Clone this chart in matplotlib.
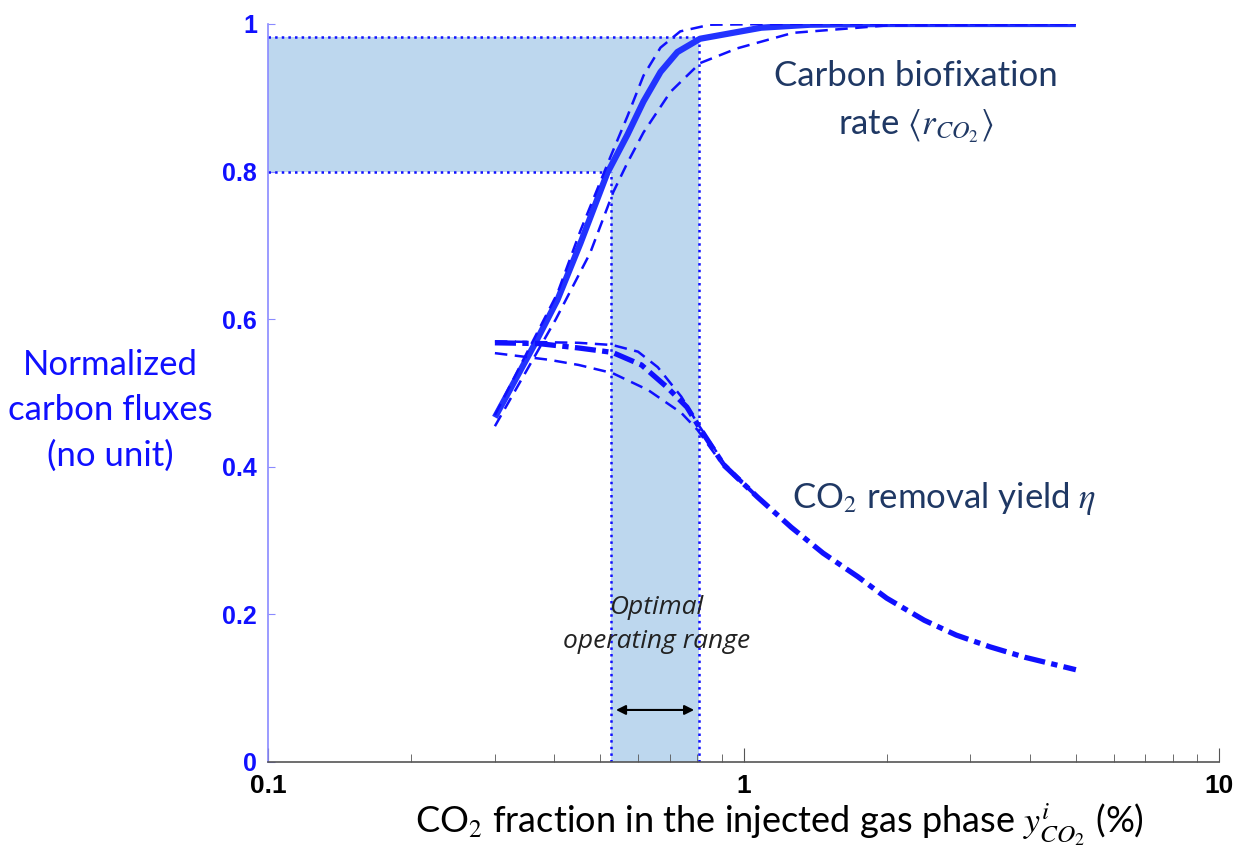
import matplotlib
matplotlib.use('Agg')
import matplotlib.pyplot as plt
import numpy as np

plt.rcParams['mathtext.fontset'] = 'stix'

# --- data ---
# carbon biofixation rate (normalized), three model variants
bio_x = [0.30, 0.365, 0.406, 0.454, 0.517, 0.570, 0.616, 0.669, 0.726, 0.81, 1.09, 1.38, 2.0, 5.0]
bio_mid = [0.467, 0.568, 0.626, 0.703, 0.798, 0.850, 0.895, 0.935, 0.962, 0.980, 0.995, 0.999, 1.0, 1.0]
bio_up_x = [0.30, 0.406, 0.454, 0.525, 0.570, 0.616, 0.669, 0.736, 0.85, 1.2, 5.0]
bio_up = [0.470, 0.635, 0.720, 0.820, 0.875, 0.930, 0.968, 0.990, 0.999, 1.0, 1.0]
bio_lo_x = [0.30, 0.403, 0.476, 0.532, 0.570, 0.616, 0.702, 0.81, 0.97, 1.27, 2.0, 5.0]
bio_lo = [0.455, 0.600, 0.690, 0.772, 0.812, 0.853, 0.908, 0.947, 0.967, 0.988, 0.998, 1.0]

# CO2 removal yield (normalized)
eta_x = [0.30, 0.37, 0.45, 0.53, 0.61, 0.69, 0.76, 0.81, 0.91, 1.07, 1.26, 1.47, 1.74, 2.0, 2.4, 2.8, 3.3, 3.9, 5.0]
eta_mid = [0.568, 0.567, 0.561, 0.555, 0.538, 0.508, 0.481, 0.452, 0.402, 0.359, 0.318, 0.283, 0.251, 0.222, 0.192, 0.172, 0.156, 0.142, 0.125]
eta_up_x = [0.30, 0.45, 0.53, 0.60, 0.66, 0.74, 0.80, 0.91, 1.07]
eta_up = [0.570, 0.568, 0.565, 0.556, 0.535, 0.495, 0.459, 0.405, 0.360]
eta_lo_x = [0.30, 0.39, 0.45, 0.53, 0.63, 0.74, 0.80, 0.91, 1.07]
eta_lo = [0.554, 0.545, 0.538, 0.527, 0.504, 0.473, 0.450, 0.400, 0.358]

# optimal operating range
range_lo, range_hi = 0.527, 0.808
rate_lo, rate_hi = 0.80, 0.982

x_ticks = [0.1, 1, 10]
x_ticklabels = ['0.1', '1', '10']
y_ticks = [0, 0.2, 0.4, 0.6, 0.8, 1.0]
y_ticklabels = ['0', '0.2', '0.4', '0.6', '0.8', '1']

blue = '#1010ff'
navy = '#1f3864'
shade = '#bdd7ee'

fig = plt.figure(figsize=(12.42, 8.51), dpi=100)
ax = fig.add_axes([0.2158, 0.1046, 0.7657, 0.8672])
ax.set_xscale('log')
ax.set_xlim(0.1, 10)
ax.set_ylim(0, 1)

# shaded areas
ax.fill_between([0.1, range_hi], rate_lo, rate_hi, color=shade, lw=0, zorder=0)
ax.fill_between([range_lo, range_hi], 0, rate_lo, color=shade, lw=0, zorder=0)
# dotted guides
ax.plot([0.1, range_hi], [rate_hi, rate_hi], ':', color=blue, lw=1.8)
ax.plot([0.1, range_lo], [rate_lo, rate_lo], ':', color=blue, lw=1.8)
ax.plot([range_lo, range_lo], [0, rate_lo], ':', color=blue, lw=1.8)
ax.plot([range_hi, range_hi], [0, rate_hi], ':', color=blue, lw=1.8)

# biofixation curves
ax.plot(bio_x, bio_mid, '-', color='#2233ff', lw=4.5, solid_capstyle='butt')
ax.plot(bio_up_x, bio_up, '--', color=blue, lw=1.8, dashes=(5, 3))
ax.plot(bio_lo_x, bio_lo, '--', color=blue, lw=1.8, dashes=(5, 3))

# removal yield curves
ax.plot(eta_x, eta_mid, color=blue, lw=3.8, linestyle=(0, (4, 1.2, 1.2, 1.2)))
ax.plot(eta_up_x, eta_up, '--', color=blue, lw=1.8, dashes=(5, 3))
ax.plot(eta_lo_x, eta_lo, '--', color=blue, lw=1.8, dashes=(5, 3))

# operating range arrow + label
ax.annotate('', xy=(range_hi - 0.01, 0.0705), xytext=(range_lo + 0.005, 0.0705),
            arrowprops=dict(arrowstyle='<|-|>', color='black', lw=1.5, mutation_scale=14))
ax.text(0.655, 0.186, 'Optimal\noperating range', ha='center', va='center',
        fontsize=19, style='italic', color='#222222', family='Open Sans', linespacing=1.45)

ax.text(2.3, 0.894, 'Carbon biofixation\nrate $\\langle r_{CO_2}\\rangle$', ha='center', va='center',
        fontsize=25, color=navy, family='Lato', linespacing=1.6)
ax.text(2.64, 0.357, 'CO$_2$ removal yield $\\eta$', ha='center', va='center',
        fontsize=25, color=navy, family='Lato')

# axes styling
for s in ['top', 'right']:
    ax.spines[s].set_visible(False)
ax.spines['left'].set_color('#8a8aff')
ax.spines['left'].set_linewidth(1.2)
ax.spines['bottom'].set_color('#555555')
ax.spines['bottom'].set_linewidth(1.2)

ax.set_xticks(x_ticks)
ax.set_xticklabels(x_ticklabels, fontsize=19, fontweight='bold', family='Liberation Sans')
ax.set_yticks(y_ticks)
ax.set_yticklabels(y_ticklabels, fontsize=18, fontweight='bold', family='Liberation Sans', color=blue)
ax.tick_params(axis='x', which='major', direction='in', length=10, color='#555555', pad=9)
ax.tick_params(axis='x', which='minor', direction='in', length=6, color='#555555')
ax.tick_params(axis='y', direction='in', length=5, color='#8a8aff', pad=8)

fig.text(0.0885, 0.518, 'Normalized\ncarbon fluxes\n(no unit)', ha='center', va='center',
         fontsize=25, color=blue, family='Lato', linespacing=1.5)
fig.text(0.628, 0.031, 'CO$_2$ fraction in the injected gas phase $y^{i}_{CO_2}$ (%)',
         ha='center', va='center', fontsize=26, color='black', family='Lato')

plt.savefig('out.png', dpi=100, facecolor='white')
plt.close()
